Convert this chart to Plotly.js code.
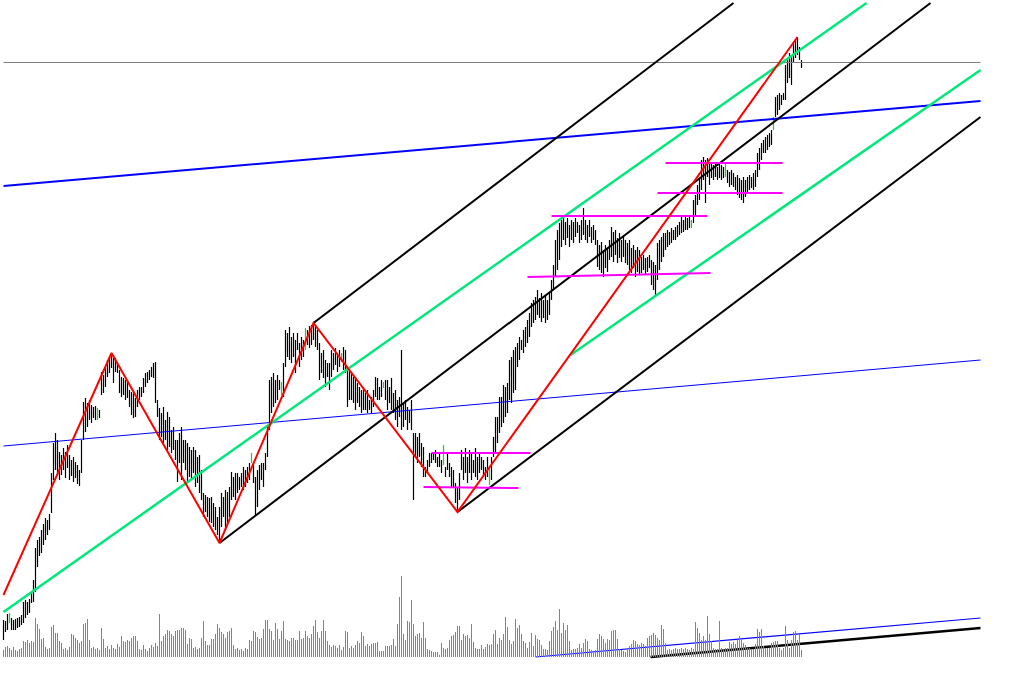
<!DOCTYPE html>
<html>
<head>
<meta charset="utf-8">
<script src="https://cdn.plot.ly/plotly-3.0.1.min.js"></script>
<style>html,body{margin:0;padding:0;background:#fff;}#chart{width:1018px;height:674px;}</style>
</head>
<body>
<div id="chart"></div>
<script>
// ---- price bars (high / low), one per session ----
const highs = [
54,53,60,61,56,54,55,56,57,59, 72,74,72,75,81,94,126,134,137,144,
150,156,154,160,201,231,241,234,222,219, 226,222,229,219,214,217,212,209,204,234,
272,276,271,274,269,267,268,266,264,302, 299,306,314,317,321,319,316,311,304,297,
296,294,292,284,282,281,276,284,287,287, 296,301,302,304,307,311,312,274,266,261,
267,254,262,257,244,247,234,234,241,247, 234,234,231,227,224,227,224,217,219,204,
181,179,177,176,177,171,167,157,167,181, 177,184,182,187,202,197,201,201,197,201,
207,204,207,211,221,211,197,204,209,211, 211,221,247,294,297,301,294,299,294,292,
311,344,341,347,337,341,334,341,331,337, 334,346,344,348,349,351,348,344,331,321,
324,314,311,311,324,321,326,319,324,321, 327,324,307,304,301,297,297,291,287,284,
287,281,284,274,277,284,297,296,287,294, 292,294,294,287,296,281,284,274,277,324,
271,274,267,264,274,241,241,237,241,231, 227,207,214,221,221,222,224,217,221,214,
229,207,221,211,207,204,191,187,201,224, 217,226,217,224,221,214,226,217,221,217,
214,207,217,206,217,237,257,257,277,277, 289,287,291,314,317,324,327,331,337,334,
344,347,354,361,371,374,377,384,376,381, 374,379,374,382,394,409,434,444,451,454,
456,452,456,449,454,452,456,452,449,454, 466,454,449,454,447,449,444,434,429,432,
424,429,426,434,447,442,444,436,441,434, 439,434,431,434,426,429,424,427,424,417,
419,416,417,419,414,412,409,431,434,437, 441,441,444,442,446,444,447,449,452,457,
454,459,456,459,454,474,479,489,496,514, 517,514,516,511,511,509,511,507,511,509,
507,511,504,502,504,501,497,499,496,494, 497,494,497,499,497,501,504,521,526,531,
534,537,539,541,544,557,577,579,581,579, 581,609,614,621,617,631,634,637,627,614
];
const lows = [
34,42,44,51,44,44,44,46,47,49, 51,56,59,61,71,72,82,107,118,121,
129,134,139,144,161,194,204,199,194,199, 204,196,206,194,198,192,196,190,188,201,
234,242,247,254,251,256,254,254,256,279, 281,287,297,301,306,291,302,301,281,277,
279,274,276,267,259,256,257,267,274,277, 281,287,291,294,297,296,271,257,234,237,
231,234,224,227,221,224,214,192,211,194, 211,204,191,197,194,201,187,191,181,174,
157,162,157,152,151,147,144,139,131,147, 157,144,151,157,174,177,174,181,184,187,
184,187,191,194,211,191,159,167,184,194, 187,204,217,244,261,267,271,274,284,279,
277,307,317,314,311,317,301,324,307,314, 317,324,329,326,329,334,327,324,294,301,
296,287,297,284,297,304,309,302,307,312, 304,301,267,274,274,271,264,271,267,261,
264,264,261,264,261,267,277,274,274,277, 286,274,264,271,264,261,254,247,257,244,
247,254,244,251,244,174,217,211,217,207, 197,197,201,207,211,214,211,207,207,201,
209,197,204,197,187,187,171,162,174,204, 194,201,191,201,194,201,197,194,201,204,
197,194,197,189,194,217,221,231,241,247, 251,257,261,274,271,281,284,307,314,324,
321,327,331,337,347,351,354,359,356,352, 356,351,354,359,374,384,397,404,414,427,
434,429,436,427,434,431,437,441,431,434, 439,434,431,437,431,434,429,407,404,401,
397,406,402,414,417,412,419,411,416,412, 417,411,409,404,401,406,397,402,399,401,
404,399,402,406,389,384,377,394,404,412, 417,424,427,429,431,434,434,437,439,441,
442,444,444,446,446,451,459,469,474,484, 494,471,497,489,496,494,497,494,496,494,
496,497,491,487,489,487,484,479,476,474, 471,477,482,484,486,484,487,497,504,514,
521,521,524,527,529,544,557,559,564,569, 574,574,591,596,589,611,616,619,614,606
];
// sessions drawn in green
const greenBars = [3,47,124,139,151,169,190,220,243,344,361,385];
// ---- volume ----
const volumes = [
7,10,11,9,7,10,7,6,8,9, 16,15,17,14,16,15,39,33,28,18,
19,10,8,9,30,32,24,24,16,14, 8,9,7,10,23,22,19,17,14,16,
33,34,38,17,9,10,8,9,7,29, 18,9,11,8,12,9,8,13,10,21,
16,15,17,16,19,21,21,16,8,7, 12,8,6,9,12,10,14,11,43,16,
21,23,27,26,23,21,26,27,27,29, 29,27,13,19,18,9,10,8,9,19,
36,16,12,12,18,18,23,33,29,25, 23,19,25,26,29,12,8,9,7,8,
6,9,8,17,16,26,25,20,18,19, 28,37,37,28,26,17,34,28,18,26,
36,18,17,16,19,19,17,17,26,18, 19,26,21,19,23,31,37,25,19,26,
37,26,16,12,10,12,11,9,12,7, 10,26,25,9,11,9,12,16,14,25,
21,11,13,11,13,14,14,15,6,6, 6,11,11,11,12,18,11,33,60,81,
23,17,36,35,57,33,21,23,24,19, 35,19,8,7,6,5,5,5,2,14,
9,8,9,17,21,22,25,31,31,17, 23,21,22,19,33,15,9,8,8,12,
8,10,13,12,13,23,27,13,19,
17,23,40,30,17,13,16,38,29,32, 23,16,14,9,15,24,11,22,18,17,
12,8,8,7,16,26,30,36,27,48, 24,34,27,32,16,7,8,8,9,13,
9,14,18,16,8,7,5,7,18,23, 21,18,14,18,17,26,27,27,18,8,
7,6,5,8,11,13,17,16,13,12, 14,13,11,19,21,22,24,22,19,17,
32,28,14,7,8,7,8,9,8,8, 9,8,9,8,7,9,8,35,29,24,
17,21,17,41,23,16,9,8,8,36, 9,7,9,9,15,13,15,13,17,21,
17,14,12,9,9,8,8,13,28,25, 28,11,9,9,9,14,15,16,16,9,
7,9,31,17,9,17,25,26,17,23, 7
];
// ---- drawn study lines (bar index, price) ----
const zigzagX = [0, 54, 108, 155, 227, 397];
const zigzagY = [79, 321, 131, 351, 162, 637];
const forkUpperX = [155, 365],   forkUpperY = [351, 671];
const forkMiddleX = [108, 463.5], forkMiddleY = [131, 671];
const forkLowerX = [227, 488.5], forkLowerY = [162, 557];
const greenLongX = [0, 431.5],   greenLongY = [62, 671];
const greenShortX = [283.5, 488.5], greenShortY = [319, 604];
const blueThickX = [0, 488.5],   blueThickY = [488, 573];
const blueThinX = [0, 488.5],    blueThinY = [228, 314];
const grayLevelX = [0, 488.5],   grayLevelY = [611.5, 611.5];
const volBlueX = [266, 488.5],   volBlueY = [17, 56];
const volBlackX = [323.5, 488.5], volBlackY = [17, 46];
// magenta horizontal levels: [startIndex, endIndex, priceStart, priceEnd]
const levelStarts = [214, 210, 274, 262, 331, 327];
const levelEnds   = [263.5, 257.5, 352, 353.5, 389.5, 389.5];
const levelPriceA = [221, 187, 458, 397, 511, 481];
const levelPriceB = [221, 186, 458, 401, 511, 481];

// ---- build traces ----
const idx = highs.map((_, i) => i);
function segments(list) {
  const xs = [], ys = [];
  list.forEach(i => { xs.push(i, i, null); ys.push(lows[i], highs[i], null); });
  return {xs, ys};
}
const greenSet = new Set(greenBars);
const blackSeg = segments(idx.filter(i => !greenSet.has(i)));
const greenSeg = segments(greenBars);

const traces = [];
traces.push({type:'bar', x: idx, y: volumes, yaxis:'y2', width:0.5,
  marker:{color:'#38b838', line:{width:0}}, hoverinfo:'skip'});
traces.push({type:'scatter', mode:'lines', x: blackSeg.xs, y: blackSeg.ys,
  line:{color:'#000000', width:1.2}, hoverinfo:'skip'});
traces.push({type:'scatter', mode:'lines', x: greenSeg.xs, y: greenSeg.ys,
  line:{color:'#22cc22', width:1.2}, hoverinfo:'skip'});

function ln(x, y, color, width) {
  traces.push({type:'scatter', mode:'lines', x:x, y:y, line:{color:color, width:width}, hoverinfo:'skip'});
}
ln(grayLevelX, grayLevelY, '#808080', 1);
ln(blueThinX, blueThinY, '#0000ff', 1);
ln(blueThickX, blueThickY, '#0000ff', 2);
ln(greenLongX, greenLongY, '#00e87a', 2.5);
ln(greenShortX, greenShortY, '#00e87a', 2.5);
ln(forkUpperX, forkUpperY, '#000000', 2);
ln(forkMiddleX, forkMiddleY, '#000000', 2);
ln(forkLowerX, forkLowerY, '#000000', 2);
ln(volBlueX, volBlueY, '#0000ff', 1.2);
ln(volBlackX, volBlackY, '#000000', 2.5);
for (let k = 0; k < levelStarts.length; k++) {
  ln([levelStarts[k], levelEnds[k]], [levelPriceA[k], levelPriceB[k]], '#ff00ff', 2);
}
ln(zigzagX, zigzagY, '#ff0000', 2);

const layout = {
  width:1018, height:674,
  margin:{l:0, r:0, t:0, b:0, pad:0},
  paper_bgcolor:'#ffffff', plot_bgcolor:'#ffffff',
  showlegend:false,
  bargap:0,
  xaxis:{range:[-1.75, 507.25], visible:false, fixedrange:true},
  yaxis:{range:[0, 674], visible:false, fixedrange:true},
  yaxis2:{range:[-17, 657], visible:false, overlaying:'y', fixedrange:true}
};
Plotly.newPlot('chart', traces, layout, {staticPlot:true, displayModeBar:false});
</script>
</body>
</html>
